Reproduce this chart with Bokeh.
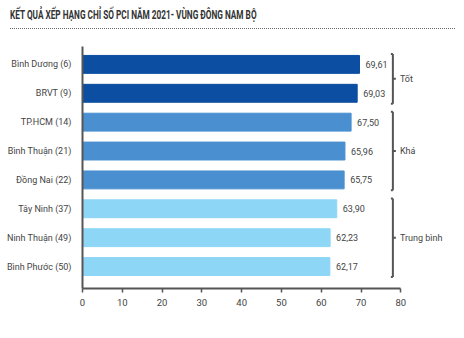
from bokeh.plotting import figure
from bokeh.models import Range1d, FixedTicker, Div, ColumnDataSource
from bokeh.layouts import column
from bokeh.embed import file_html
from bokeh.resources import INLINE
from bokeh.core.properties import value

title_text = "KẾT QUẢ XẾP HẠNG CHỈ SỐ PCI NĂM 2021- VÙNG ĐÔNG NAM BỘ"
provinces = ["Bình Dương (6)", "BRVT (9)", "TP.HCM (14)", "Bình Thuận (21)",
             "Đồng Nai (22)", "Tây Ninh (37)", "Ninh Thuận (49)", "Bình Phước (50)"]
scores = [69.61, 69.03, 67.50, 65.96, 65.75, 63.90, 62.23, 62.17]
groups = ["Tốt", "Tốt", "Khá", "Khá", "Khá", "Trung bình", "Trung bình", "Trung bình"]
group_names = ["Tốt", "Khá", "Trung bình"]
group_colors = ["#0b4ea2", "#4a90d0", "#8ed6f6"]
x_ticks = [0, 10, 20, 30, 40, 50, 60, 70, 80]

FONT = "Roboto"
TXT = "#444444"
AX = "#555555"

ypos = list(range(len(provinces)))
colors = [group_colors[group_names.index(g)] for g in groups]
labels = [f"{v:.2f}".replace(".", ",") for v in scores]
src = ColumnDataSource(dict(y=ypos, score=scores, color=colors, label=labels))

p = figure(width=464, height=298, output_backend="svg", toolbar_location=None,
           x_range=Range1d(0, 96), y_range=Range1d(7.76, -0.62),
           min_border_left=82, min_border_right=0, min_border_top=6,
           min_border_bottom=50)
p.outline_line_color = None
p.grid.grid_line_color = None
p.background_fill_color = "white"

p.hbar(y="y", right="score", left=0, height=0.62, color="color", source=src)
p.text(x="score", y="y", text="label", source=src, x_offset=6,
       text_baseline="middle", text_align="left", text_font=value(FONT),
       text_font_size="9px", text_color=TXT)

# group brackets
bx = 78
bx0, bx1, by0, by1 = [], [], [], []
tx, ty, tt = [], [], []
for g in group_names:
    idx = [i for i, gg in enumerate(groups) if gg == g]
    top, bot = min(idx) - 0.36, max(idx) + 0.36
    mid = (min(idx) + max(idx)) / 2
    bx0 += [bx, bx - 0.5, bx - 0.5, bx]
    bx1 += [bx, bx, bx, bx + 0.75]
    by0 += [top, top, bot, mid]
    by1 += [bot, top, bot, mid]
    tx.append(bx); ty.append(mid); tt.append(g)
p.segment(x0=bx0, x1=bx1, y0=by0, y1=by1, line_color=AX, line_width=2)
p.text(x=tx, y=ty, text=tt, x_offset=7, text_baseline="middle", text_align="left",
       text_font=value(FONT), text_font_size="9px", text_color=TXT)

# axes
xa = p.xaxis[0]
xa.ticker = FixedTicker(ticks=x_ticks)
xa.bounds = (0, 80)
xa.axis_line_color = AX
xa.axis_line_width = 2
xa.major_tick_line_color = AX
xa.major_tick_line_width = 1.5
xa.major_tick_in = 0
xa.major_tick_out = 4
xa.minor_tick_line_color = None
xa.major_label_text_font = FONT
xa.major_label_text_font_size = "9.5px"
xa.major_label_text_color = TXT
xa.major_label_standoff = 6

ya = p.yaxis[0]
ya.ticker = FixedTicker(ticks=ypos)
ya.major_label_overrides = {i: n for i, n in enumerate(provinces)}
ya.axis_line_color = AX
ya.axis_line_width = 2
ya.major_tick_line_color = None
ya.minor_tick_line_color = None
ya.major_label_text_font = FONT
ya.major_label_text_font_size = "9px"
ya.major_label_text_color = TXT
ya.major_label_standoff = 5

div = Div(text=(
    "<div style='height:29px;border-bottom:1px dotted #666;width:445px;margin-left:10px;'>"
    "<div style='font-family:Roboto,sans-serif;font-weight:bold;font-size:13.5px;color:#333;"
    "line-height:14px;padding-top:7px;white-space:nowrap;transform:scaleX(0.61);"
    f"transform-origin:0 0;'>{title_text}</div></div>"),
    width=464, height=40, margin=(0, 0, 0, 0))

layout = column(div, p, spacing=0)
open("out.html", "w").write(file_html(layout, INLINE))
